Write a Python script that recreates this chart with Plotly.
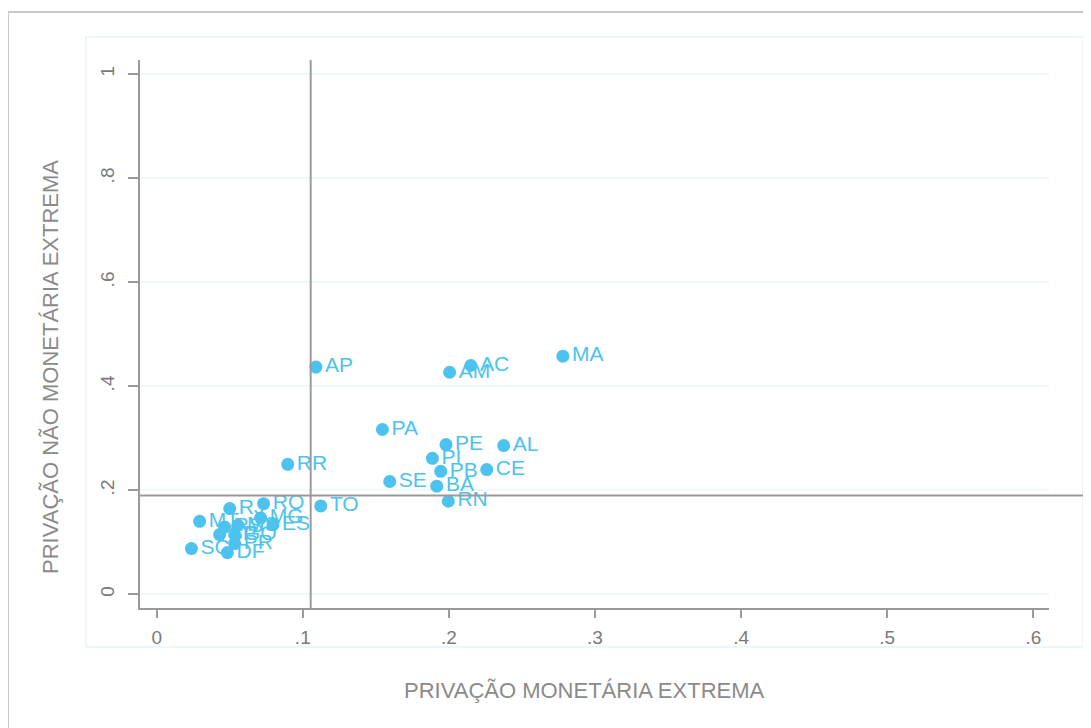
import plotly.graph_objects as go

states = ["MA", "AC", "AM", "AP", "PA", "PE", "AL", "PI", "PB", "CE", "SE", "BA", "RN",
          "RR", "TO", "RO", "RJ", "MT", "MG", "ES", "RS", "MS", "SP", "GO", "PR", "SC", "DF"]
priv_monetaria = [0.278, 0.215, 0.2005, 0.109, 0.1545, 0.198, 0.2375, 0.1887, 0.1944, 0.2259,
                  0.1595, 0.1917, 0.1996, 0.0897, 0.1123, 0.0732, 0.050, 0.0294, 0.0712, 0.0796,
                  0.0465, 0.0556, 0.0431, 0.0534, 0.0534, 0.0238, 0.0484]
priv_nao_monetaria = [0.458, 0.440, 0.427, 0.437, 0.317, 0.288, 0.286, 0.2615, 0.2365, 0.2398,
                      0.217, 0.208, 0.179, 0.250, 0.170, 0.1744, 0.165, 0.1404, 0.1467, 0.134,
                      0.1294, 0.1327, 0.1148, 0.1148, 0.0975, 0.0879, 0.0802]

x_ticks = [0, 0.1, 0.2, 0.3, 0.4, 0.5, 0.6]
x_tick_labels = ["0", ".1", ".2", ".3", ".4", ".5", ".6"]
y_ticks = [0, 0.2, 0.4, 0.6, 0.8, 1.0]
y_tick_labels = ["0", ".2", ".4", ".6", ".8", "1"]
ref_x = 0.1054
ref_y = 0.190
x_title = "PRIVAÇÃO MONETÁRIA EXTREMA"
y_title = "PRIVAÇÃO NÃO MONETÁRIA EXTREMA"

blue = "#4cc3ee"
gray_line = "#9a9a9a"
title_gray = "#8a8a8a"
font_family = "Liberation Sans, Arial, sans-serif"

fig = go.Figure()
fig.add_trace(go.Scatter(
    x=priv_monetaria, y=priv_nao_monetaria, text=states,
    mode="markers+text", textposition="middle right",
    marker=dict(size=13, color=blue),
    textfont=dict(size=21, color=blue, family=font_family),
    showlegend=False, cliponaxis=False,
))

# reference lines
fig.add_shape(type="line", xref="x", yref="paper", x0=ref_x, x1=ref_x, y0=0, y1=1,
              line=dict(color=gray_line, width=2), layer="above")
fig.add_shape(type="line", xref="paper", yref="y", x0=0, x1=1.04, y0=ref_y, y1=ref_y,
              line=dict(color=gray_line, width=2), layer="above")

# outer frame and inner faint region (page pixels -> paper fractions)
fig.add_shape(type="rect", xref="paper", yref="paper",
              x0=(8 - 140) / 909, x1=(1100 - 140) / 909,
              y0=(608 - 740) / 548, y1=(608 - 12) / 548,
              line=dict(color="#c8c8c8", width=2), layer="below")
fig.add_shape(type="rect", xref="paper", yref="paper",
              x0=(86 - 140) / 909, x1=(1083 - 140) / 909,
              y0=(608 - 647) / 548, y1=(608 - 37) / 548,
              line=dict(color="#eef7f7", width=2), layer="below")

# axis titles as annotations (positioned as in reference)
fig.add_annotation(text=x_title, xref="paper", yref="paper",
                   x=(584 - 140) / 909, y=(608 - 690) / 548,
                   xanchor="center", yanchor="middle", showarrow=False,
                   font=dict(size=22, color=title_gray, family=font_family))
fig.add_annotation(text=y_title, xref="paper", yref="paper",
                   x=(50 - 140) / 909, y=(608 - 367) / 548, textangle=-90,
                   xanchor="center", yanchor="middle", showarrow=False,
                   font=dict(size=22, color=title_gray, family=font_family))

fig.update_layout(
    width=1091, height=728,
    margin=dict(l=132, r=50, t=52, b=128),
    paper_bgcolor="white", plot_bgcolor="white",
    font=dict(family=font_family, color="#7a7a7a"),
    xaxis=dict(
        range=[-0.0114, 0.6107], tickvals=x_ticks, ticktext=x_tick_labels,
        showgrid=False, zeroline=False, showline=True, linecolor=gray_line, linewidth=2,
        ticks="outside", ticklen=8, tickcolor=gray_line, tickwidth=1.5,
        ticklabelstandoff=3,
        tickfont=dict(size=19, color="#7a7a7a"),
    ),
    yaxis=dict(
        range=[-0.0263, 1.0275], tickvals=y_ticks, ticktext=y_tick_labels,
        showgrid=True, gridcolor="#f0f7f7", gridwidth=1.5, zeroline=False,
        showline=True, linecolor=gray_line, linewidth=2,
        ticks="outside", ticklen=10, tickcolor=gray_line, tickwidth=1.5,
        ticklabelstandoff=6,
        tickangle=-90, tickfont=dict(size=19, color="#7a7a7a"),
    ),
)

fig.write_html("out.html")
